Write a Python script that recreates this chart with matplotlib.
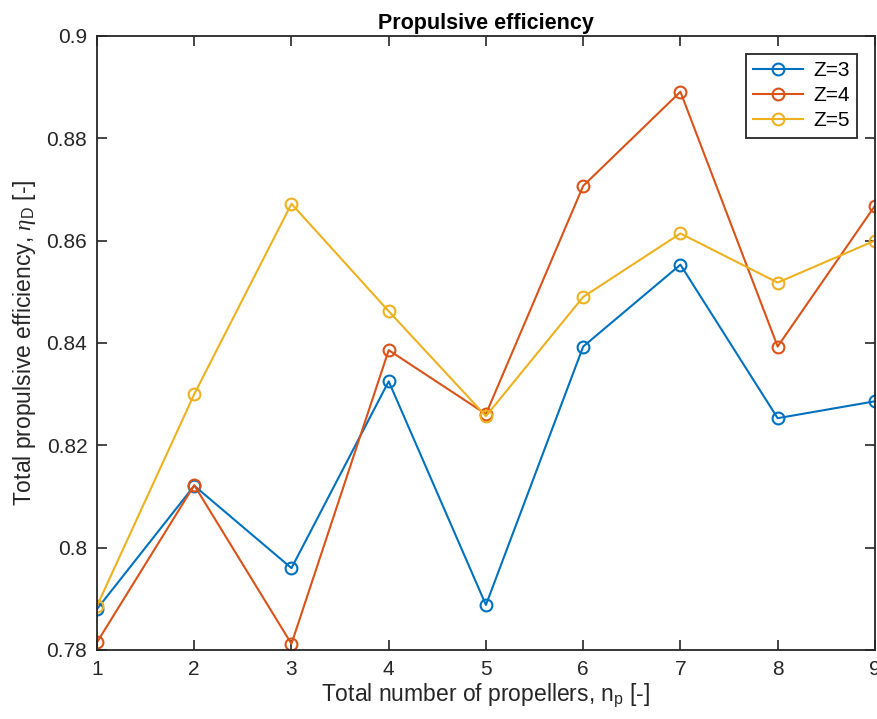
import matplotlib
matplotlib.use('Agg')
import matplotlib.pyplot as plt
from matplotlib.ticker import FuncFormatter

plt.rcParams['font.family'] = ['Liberation Sans', 'DejaVu Sans']
plt.rcParams['mathtext.fontset'] = 'custom'
plt.rcParams['mathtext.rm'] = 'Liberation Sans'
plt.rcParams['mathtext.it'] = 'Liberation Serif:italic'

n_props = [1, 2, 3, 4, 5, 6, 7, 8, 9]
eff_z3 = [0.7880, 0.8121, 0.7960, 0.8325, 0.7888, 0.8393, 0.8553, 0.8253, 0.8286]
eff_z4 = [0.7815, 0.8122, 0.7812, 0.8386, 0.8261, 0.8707, 0.8891, 0.8393, 0.8668]
eff_z5 = [0.7886, 0.8300, 0.8672, 0.8462, 0.8257, 0.8490, 0.8614, 0.8518, 0.8600]
labels = ['Z=3', 'Z=4', 'Z=5']
colors = ['#0072BD', '#D95319', '#EDB120']

fig = plt.figure(figsize=(8.77, 7.19), dpi=100)
ax = fig.add_axes([0.1106, 0.096, 0.887, 0.854])

for vals, lab, c in zip([eff_z3, eff_z4, eff_z5], labels, colors):
    ax.plot(n_props, vals, '-o', color=c, label=lab, lw=1.5,
            markersize=8.5, markerfacecolor='none', markeredgewidth=1.5)

ax.set_xlim(1, 9)
ax.set_ylim(0.78, 0.9)
ax.set_xticks(n_props)
ax.set_yticks([0.78, 0.80, 0.82, 0.84, 0.86, 0.88, 0.90])
ax.yaxis.set_major_formatter(FuncFormatter(lambda v, p: f'{v:g}'))
ax.tick_params(direction='in', top=True, right=True, labelsize=15,
               length=7, width=1.2, colors='#262626', pad=7)
for s in ax.spines.values():
    s.set_linewidth(1.3)
    s.set_color('#262626')

ax.set_title('Propulsive efficiency', fontsize=15.5, fontweight='bold', pad=5)
ax.set_xlabel(r'Total number of propellers, n$_{\rm p}$ [-]', fontsize=16.5,
              color='#262626', labelpad=2)
ax.set_ylabel(r'Total propulsive efficiency, $\eta_{\rm D}$ [-]', fontsize=16.5,
              color='#262626', labelpad=6)

leg = ax.legend(loc='upper right', fontsize=15, fancybox=False, edgecolor='#262626',
                framealpha=1, borderaxespad=0.85, handlelength=2.4,
                borderpad=0.35, labelspacing=0.3, handletextpad=0.5)
leg.get_frame().set_linewidth(1.3)

fig.savefig('out.png', dpi=100)
